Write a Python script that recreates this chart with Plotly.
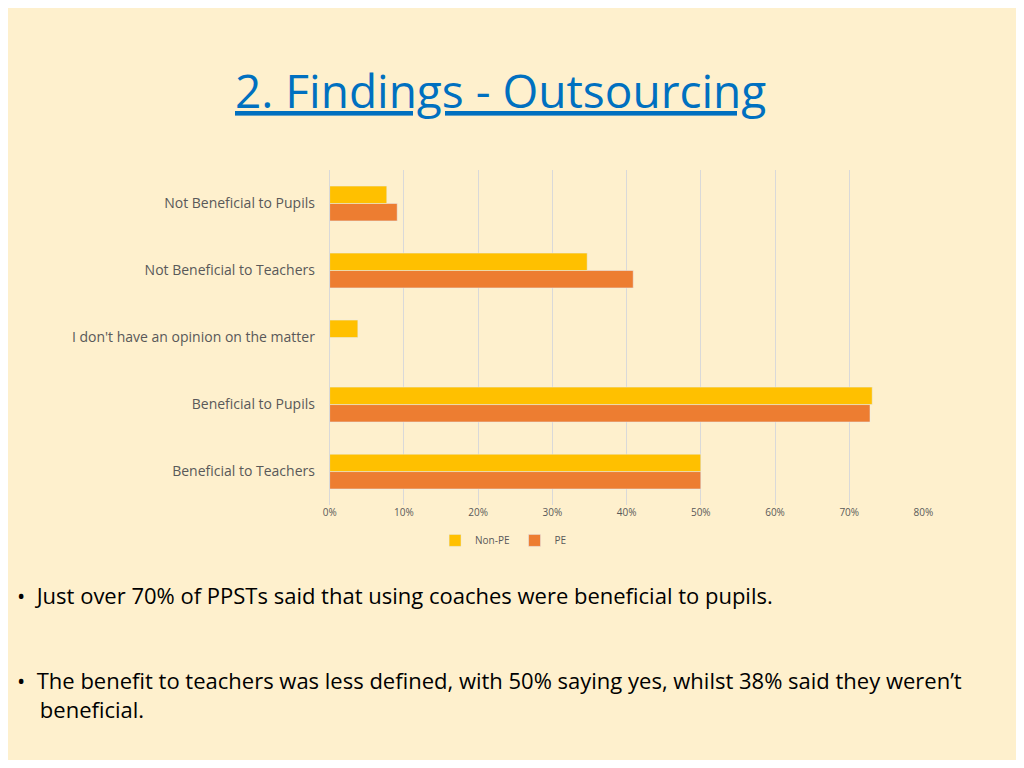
import plotly.graph_objects as go

categories = ["Beneficial to Teachers", "Beneficial to Pupils",
              "I don't have an opinion on the matter",
              "Not Beneficial to Teachers", "Not Beneficial to Pupils"]
non_pe = [50.0, 73.1, 3.8, 34.7, 7.7]
pe = [50.0, 72.8, 0.0, 40.9, 9.1]
tick_vals = [0, 10, 20, 30, 40, 50, 60, 70, 80]
tick_text = [f"{v}%" for v in tick_vals]

bg = "#FEF0CD"
font = "Open Sans"

fig = go.Figure()
fig.add_trace(go.Bar(y=categories, x=pe, name="PE", orientation="h",
                     marker_color="#ED7D31"))
fig.add_trace(go.Bar(y=categories, x=non_pe, name="Non-PE", orientation="h",
                     marker_color="#FFC000"))

fig.update_layout(
    width=1008, height=752,
    margin=dict(l=0, r=0, t=0, b=0),
    paper_bgcolor=bg, plot_bgcolor=bg,
    font=dict(family=font, color="#595959", size=14),
    barmode="group", bargap=0.48, bargroupgap=0,
    showlegend=True,
    legend=dict(orientation="h", x=0.493, xanchor="center", y=0.292,
                yanchor="middle", traceorder="reversed",
                font=dict(size=10), itemwidth=30),
    xaxis=dict(domain=[0.3175, 0.9167], range=[0, 80], tickvals=tick_vals,
               ticktext=tick_text, showgrid=True, gridcolor="#D9D9D9",
               zeroline=False, tickfont=dict(size=10), showline=False),
    yaxis=dict(domain=[0.339, 0.7846], showline=True, linecolor="#D9D9D9",
               ticksuffix="   ", tickfont=dict(size=14)),
)

fig.add_annotation(xref="paper", yref="paper", x=0.49, y=0.935,
                   text="<u>2. Findings - Outsourcing</u>", showarrow=False,
                   font=dict(family=font, size=46, color="#0070C0"))
fig.add_annotation(xref="paper", yref="paper", x=0.0, y=0.197, xanchor="left",
                   text="•  Just over 70% of PPSTs said that using coaches were beneficial to pupils.",
                   showarrow=False, font=dict(family=font, size=22, color="#000000"))
fig.add_annotation(xref="paper", yref="paper", x=0.0, y=0.045, xanchor="left",
                   align="left",
                   text="•  The benefit to teachers was less defined, with 50% saying yes, whilst 38% said they weren’t<br>    beneficial.",
                   showarrow=False, font=dict(family=font, size=22, color="#000000"))

fig.write_html("out.html")
